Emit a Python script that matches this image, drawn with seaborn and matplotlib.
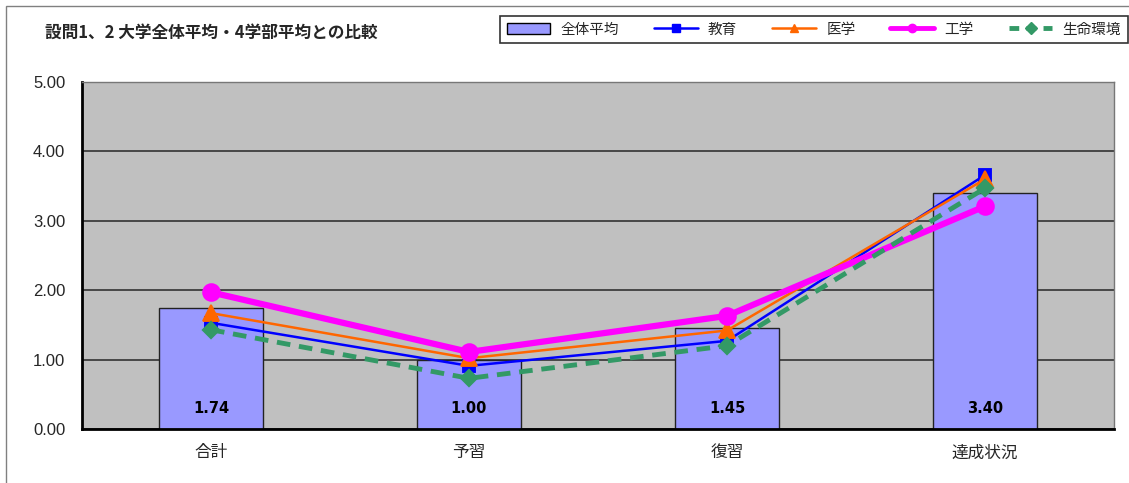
import numpy as np
import pandas as pd
import matplotlib
matplotlib.use("Agg")
import matplotlib.pyplot as plt
from matplotlib.lines import Line2D
from matplotlib.patches import Patch, Rectangle
import seaborn as sns

# ---- data ----
categories = ["合計", "予習", "復習", "達成状況"]
overall = [1.74, 1.00, 1.45, 3.40]          # 全体平均 (bars)
education = [1.53, 0.91, 1.27, 3.66]        # 教育
medicine = [1.67, 1.02, 1.42, 3.60]         # 医学
engineering = [1.97, 1.11, 1.63, 3.21]      # 工学
life_env = [1.43, 0.73, 1.20, 3.47]         # 生命環境
y_ticks = [0, 1, 2, 3, 4, 5]

title = "設問1、2 大学全体平均・4学部平均との比較"

sns.set_theme(style="white")
plt.rcParams["font.family"] = ["Noto Sans CJK JP", "DejaVu Sans"]

fig = plt.figure(figsize=(11.29, 4.83), dpi=100)
ax = fig.add_axes([82 / 1129, 1 - 429 / 483, (1114 - 82) / 1129, (429 - 82) / 483])
ax.set_facecolor("#C0C0C0")

df = pd.DataFrame({"cat": categories, "val": overall})
sns.barplot(data=df, x="cat", y="val", color="#9999FF", saturation=1,
            width=0.4, edgecolor="#222222", linewidth=1.0, ax=ax, zorder=2)

series = [
    (education, "教育", "#0000FF", "s", "-", 1.8, 9),
    (medicine, "医学", "#FF6600", "^", "-", 1.8, 11),
    (engineering, "工学", "#FF00FF", "o", "-", 4.5, 10),
    (life_env, "生命環境", "#339966", "D", "--", 3.5, 7),
]
for vals, name, col, mk, ls, lw, ms in series:
    sns.pointplot(x=categories, y=vals, color=col, markers=mk, linestyles=ls,
                  linewidth=lw, markersize=ms, ax=ax, zorder=4)

# dash pattern for the dashed series
for ln in ax.lines:
    if ln.get_linestyle() == "--":
        ln.set_dashes((2.8, 1.8))

for i, v in enumerate(overall):
    ax.text(i, 0.29, f"{v:.2f}", ha="center", va="center",
            fontsize=10.5, fontweight="bold", color="black", zorder=5,
            family=["DejaVu Sans"])

ax.set_xlim(-0.5, 3.5)
ax.set_ylim(0, 5)
ax.set_yticks(y_ticks)
ax.set_yticklabels([f"{t:.2f}" for t in y_ticks], fontsize=12,
                   family=["Liberation Sans"])
ax.set_xticks(range(len(categories)))
ax.set_xticklabels(categories, fontsize=12)
ax.set_xlabel("")
ax.set_ylabel("")
ax.yaxis.grid(True, color="#333333", linewidth=1.2, zorder=1)
ax.set_axisbelow(True)
ax.tick_params(axis="x", length=0, pad=11)
ax.tick_params(axis="y", length=3, width=1, direction="out", pad=9, color="black")
ax.set_xticks([0.5, 1.5, 2.5], minor=True)
ax.tick_params(axis="x", which="minor", length=4, width=1, direction="in", color="black")

ax.spines["left"].set_color("black")
ax.spines["left"].set_linewidth(2)
ax.spines["bottom"].set_color("black")
ax.spines["bottom"].set_linewidth(2)
for s in ("top", "right"):
    ax.spines[s].set_color("#777777")
    ax.spines[s].set_linewidth(1)

# outer chart frame
fig.add_artist(Rectangle((6 / 1129, -0.2), 1.2, 1.2 - 6 / 483 + 0.0,
                         transform=fig.transFigure, fill=False,
                         edgecolor="#808080", linewidth=1))

fig.text(45 / 1129, 1 - 33 / 483, title, fontsize=12, fontweight="bold",
         va="center", ha="left")

handles = [Patch(facecolor="#9999FF", edgecolor="black", linewidth=1, label="全体平均")]
for vals, name, col, mk, ls, lw, ms in series:
    h = Line2D([], [], color=col, marker=mk, linestyle=ls, linewidth=min(lw, 3.5),
               markersize=6, label=name)
    if ls == "--":
        h.set_dashes((2.0, 1.5))
    handles.append(h)

leg = fig.legend(handles=handles, loc="upper left", ncol=5,
                 bbox_to_anchor=(500 / 1129, 1 - 16 / 483),
                 frameon=True, fancybox=False, edgecolor="black",
                 fontsize=10.5, handlelength=3.0, handleheight=0.7,
                 columnspacing=2.4, handletextpad=0.7, borderpad=0.45,
                 borderaxespad=0)
leg.get_frame().set_linewidth(1.2)

fig.savefig("out.png", dpi=100)
